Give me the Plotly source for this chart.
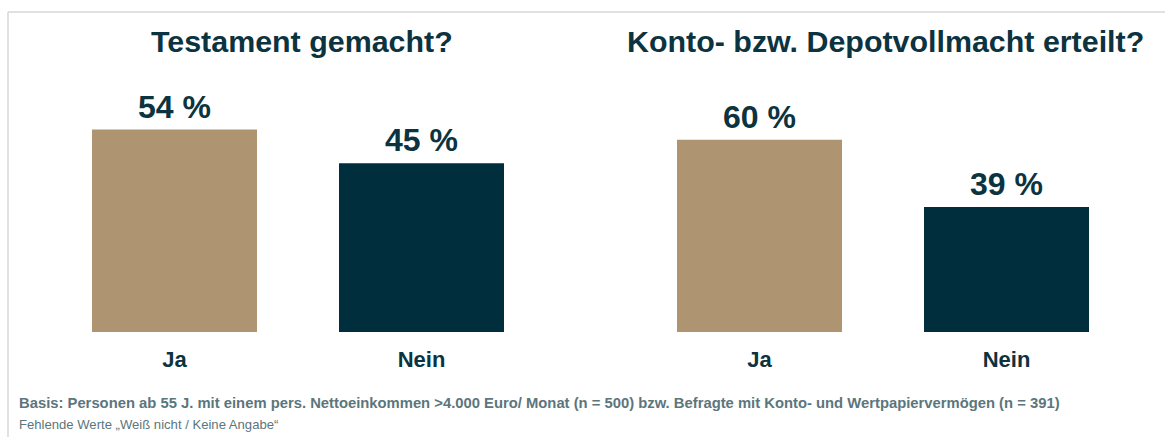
import plotly.graph_objects as go

categories = ["Ja", "Nein"]
testament_values = [54, 45]
vollmacht_values = [60, 39]
titles = ["Testament gemacht?", "Konto- bzw. Depotvollmacht erteilt?"]
bar_colors = ["#ae9471", "#002e3d"]
footnote_1 = "Basis: Personen ab 55 J. mit einem pers. Nettoeinkommen >4.000 Euro/ Monat (n = 500) bzw. Befragte mit Konto- und Wertpapiervermögen (n = 391)"
footnote_2 = "Fehlende Werte „Weiß nicht / Keine Angabe“"

W, H = 1165, 437
FONT = "Liberation Sans, Arial, sans-serif"
DARK = "#0b3340"

fig = go.Figure()
fig.add_trace(go.Bar(x=categories, y=testament_values, marker_color=bar_colors,
                     marker_line_width=0, width=0.668, xaxis="x", yaxis="y",
                     hoverinfo="skip"))
fig.add_trace(go.Bar(x=categories, y=vollmacht_values, marker_color=bar_colors,
                     marker_line_width=0, width=0.668, xaxis="x2", yaxis="y2",
                     hoverinfo="skip"))

annotations = []
for xa, ya, vals in (("x", "y", testament_values), ("x2", "y2", vollmacht_values)):
    for c, v in zip(categories, vals):
        annotations.append(dict(x=c, y=v, xref=xa, yref=ya, text=f"<b>{v} %</b>",
                                showarrow=False, yanchor="bottom", yshift=3,
                                font=dict(family=FONT, size=32, color=DARK)))

# titles
annotations.append(dict(x=302 / W, y=1 - 41 / H, xref="paper", yref="paper",
                        text=f"<b>{titles[0]}</b>", showarrow=False,
                        xanchor="center", yanchor="middle",
                        font=dict(family=FONT, size=30.4, color=DARK)))
annotations.append(dict(x=885 / W, y=1 - 41 / H, xref="paper", yref="paper",
                        text=f"<b>{titles[1]}</b>", showarrow=False,
                        xanchor="center", yanchor="middle",
                        font=dict(family=FONT, size=30.4, color=DARK)))
# footnotes
annotations.append(dict(x=17 / W, y=1 - 403 / H, xref="paper", yref="paper",
                        text=f"<b>{footnote_1}</b>", showarrow=False,
                        xanchor="left", yanchor="middle",
                        font=dict(family=FONT, size=14.8, color="#5b767c")))
annotations.append(dict(x=17 / W, y=1 - 424 / H, xref="paper", yref="paper",
                        text=footnote_2, showarrow=False,
                        xanchor="left", yanchor="middle",
                        font=dict(family=FONT, size=13.1, color="#5b767c")))

shapes = [
    dict(type="line", xref="paper", yref="paper", x0=8 / W, x1=1, y0=1 - 12 / H, y1=1 - 12 / H,
         line=dict(color="#d3d8d8", width=1.5)),
    dict(type="line", xref="paper", yref="paper", x0=8 / W, x1=8 / W, y0=0, y1=1 - 12 / H,
         line=dict(color="#d3d8d8", width=1.5)),
]

y_dom = [(H - 332) / H, (H - 80) / H]
tickfont = dict(family=FONT, size=22, color=DARK)
common_x = dict(showgrid=False, zeroline=False, showline=False, ticks="",
                tickfont=tickfont, range=[-0.5, 1.5], ticklabelstandoff=12,
                tickprefix="<b>", ticksuffix="</b>")
common_y = dict(showgrid=False, zeroline=False, showline=False, showticklabels=False)

fig.update_layout(
    width=W, height=H,
    margin=dict(l=0, r=0, t=0, b=0),
    paper_bgcolor="white", plot_bgcolor="white",
    showlegend=False,
    xaxis=dict(domain=[51 / W, 545 / W], anchor="y", **common_x),
    xaxis2=dict(domain=[636 / W, 1130 / W], anchor="y2", **common_x),
    yaxis=dict(domain=y_dom, range=[0, 252 / 3.75], anchor="x", **common_y),
    yaxis2=dict(domain=y_dom, range=[0, 252 / 3.205], anchor="x2", **common_y),
    annotations=annotations,
    shapes=shapes,
)

fig.write_html("out.html",
               config={"displayModeBar": False},
               post_script="document.body.style.margin='0';document.body.style.overflow='hidden';")
